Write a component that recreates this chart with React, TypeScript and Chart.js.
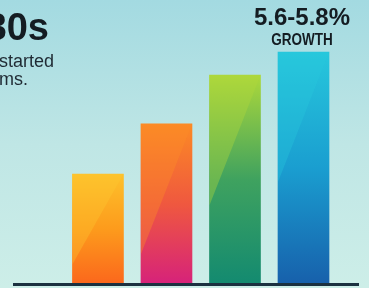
import React, { useEffect, useRef } from 'react';
import { Chart, registerables } from 'chart.js';

Chart.register(...registerables);

// ---- data ----
const categories = ['Phase 1', 'Phase 2', 'Phase 3', 'Phase 4'];
const values = [47.4, 69, 90, 100];
const topColors = ['#fdc12b', '#fc8a24', '#add83a', '#27c7dc'];
const midColors = ['#fd9b1c', '#ef583f', '#3fa25f', '#1a9ed0'];
const bottomColors = ['#fb671c', '#d6227a', '#138a70', '#1760ab'];
const highlightColors = ['rgba(253,200,50,0.35)', 'rgba(252,140,40,0.4)', 'rgba(175,216,60,0.4)', 'rgba(40,200,222,0.35)'];
const headline = '1980s';
const subLines = ['started', 'ms.'];
const growthValue = '5.6-5.8%';
const growthLabel = 'GROWTH';

const W = 369;
const H = 288;

const highlightPlugin = {
  id: 'barHighlight',
  afterDatasetsDraw(chart: any) {
    const ctx = chart.ctx;
    const meta = chart.getDatasetMeta(0);
    ctx.save();
    meta.data.forEach((el: any, i: number) => {
      const { x, y, base, width } = el.getProps(['x', 'y', 'base', 'width'], true);
      const left = x - width / 2;
      const right = x + width / 2;
      const h = base - y;
      const dy = Math.min(0.82 * h, 130);
      ctx.fillStyle = highlightColors[i];
      ctx.beginPath();
      ctx.moveTo(left, y);
      ctx.lineTo(right, y);
      ctx.lineTo(left, y + dy);
      ctx.closePath();
      ctx.fill();
    });
    // baseline
    const y0 = chart.scales.y.getPixelForValue(0);
    ctx.strokeStyle = '#1b3140';
    ctx.lineWidth = 3;
    ctx.beginPath();
    ctx.moveTo(chart.chartArea.left, y0 + 0.5);
    ctx.lineTo(chart.chartArea.right, y0 + 0.5);
    ctx.stroke();
    ctx.restore();
  },
};

export default function App() {
  const canvasRef = useRef<HTMLCanvasElement | null>(null);

  useEffect(() => {
    if (!canvasRef.current) return;
    const chart = new Chart(canvasRef.current, {
      type: 'bar',
      data: {
        labels: categories,
        datasets: [
          {
            data: values.map((v, i) => ({ x: i + 1, y: v })),
            barThickness: 51,
            borderWidth: 0,
            backgroundColor: (c: any) => {
              const chart = c.chart;
              const i = c.dataIndex;
              if (!chart.chartArea || i === undefined) return topColors[0];
              const ys = chart.scales.y;
              const t = ys.getPixelForValue(values[i]);
              const b = ys.getPixelForValue(0);
              const g = chart.ctx.createLinearGradient(0, t, 0, b);
              g.addColorStop(0, topColors[i]);
              g.addColorStop(0.5, midColors[i]);
              g.addColorStop(1, bottomColors[i]);
              return g;
            },
          } as any,
        ],
      },
      options: {
        animation: false,
        responsive: false,
        devicePixelRatio: 1,
        layout: { padding: { left: 13, right: 10, top: 0, bottom: 4 } },
        plugins: { legend: { display: false }, tooltip: { enabled: false } },
        scales: {
          x: { type: 'linear', min: -0.24, max: 4.81, offset: false, display: false },
          y: { min: 0, max: 122.4, display: false },
        },
      },
      plugins: [highlightPlugin],
    });
    return () => chart.destroy();
  }, []);

  const dark = '#141c22';
  return (
    <div
      style={{
        position: 'fixed',
        left: 0,
        top: 0,
        width: W,
        height: H,
        overflow: 'hidden',
        background: 'linear-gradient(to bottom, #a3dae1 0%, #bfe6e5 50%, #cdeee8 100%)',
        fontFamily: '"Liberation Sans", Arial, sans-serif',
      }}
    >
      <canvas ref={canvasRef} width={W} height={H} style={{ position: 'absolute', left: 0, top: 0 }} />
      <div
        style={{
          position: 'absolute',
          left: -200,
          width: 249,
          top: 8,
          textAlign: 'right',
          fontSize: 38,
          lineHeight: '38px',
          fontWeight: 700,
          color: dark,
          whiteSpace: 'nowrap',
        }}
      >
        {headline}
      </div>
      {subLines.map((t, i) => (
        <div
          key={t}
          style={{
            position: 'absolute',
            left: -1,
            top: 52 + i * 18,
            fontSize: 18,
            lineHeight: '18px',
            color: '#1f2a33',
            whiteSpace: 'nowrap',
          }}
        >
          {t}
        </div>
      ))}
      <div
        style={{
          position: 'absolute',
          left: 202,
          width: 200,
          top: 5,
          textAlign: 'center',
          fontSize: 24,
          lineHeight: '24px',
          fontWeight: 700,
          color: dark,
          whiteSpace: 'nowrap',
        }}
      >
        {growthValue}
      </div>
      <div
        style={{
          position: 'absolute',
          left: 202,
          width: 200,
          top: 31,
          textAlign: 'center',
          fontSize: 16.5,
          lineHeight: '16.5px',
          fontWeight: 700,
          color: dark,
          whiteSpace: 'nowrap',
          transform: 'scaleX(0.82)',
        }}
      >
        {growthLabel}
      </div>
    </div>
  );
}
